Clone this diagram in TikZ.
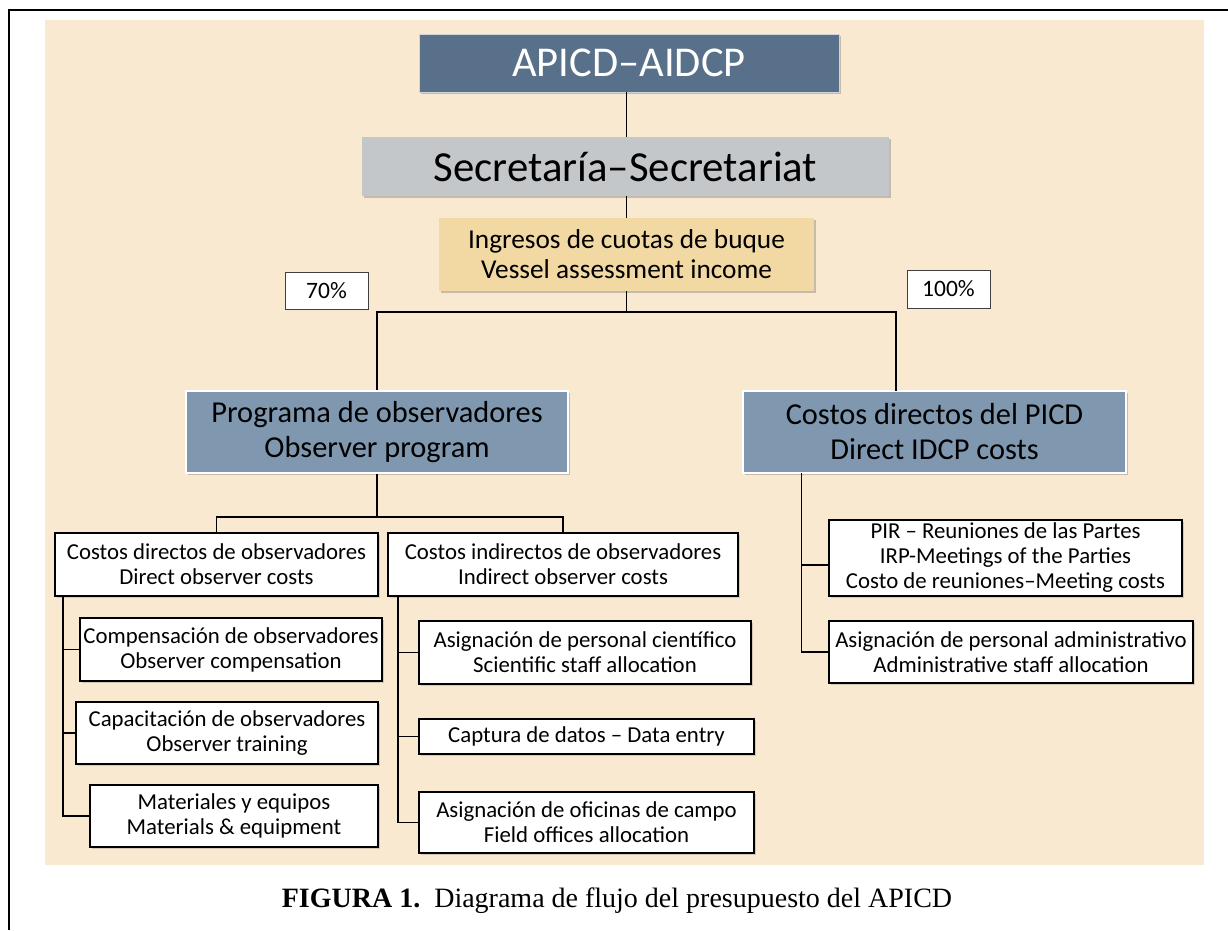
\documentclass[tikz,border=0pt]{standalone}
\usepackage{fontspec}
\setmainfont{Carlito}
\newfontfamily\capfont{Liberation Serif}
\usetikzlibrary{shadows}
\definecolor{tanbg}{RGB}{248,233,208}
\definecolor{slate}{RGB}{88,112,137}
\definecolor{greyb}{RGB}{196,199,202}
\definecolor{goldb}{RGB}{242,216,163}
\definecolor{blueb}{RGB}{127,152,175}
\begin{document}
\begin{tikzpicture}[x=1pt,y=-1pt,
  shad/.style={drop shadow={shadow xshift=2pt,shadow yshift=-2pt,opacity=0.35,fill=black!60}},
  basebox/.style={inner sep=0pt, align=center},
  topbox/.style={basebox, fill=slate, draw=white!70!slate, line width=0.8pt, text=white, shad, font=\fontsize{42.5}{46}\selectfont},
  secbox/.style={basebox, fill=greyb, shad, font=\fontsize{42.8}{46}\selectfont},
  incbox/.style={basebox, fill=goldb, shad, font=\fontsize{27.3}{30}\selectfont},
  pctbox/.style={basebox, fill=white, draw=black!75, line width=0.9pt, font=\fontsize{23.5}{26}\selectfont},
  midbox/.style={basebox, fill=blueb, draw=white, line width=2pt, shad, font=\fontsize{30.4}{35}\selectfont},
  leafbox/.style={basebox, fill=white, draw=black, line width=1.4pt, drop shadow={shadow xshift=1.5pt,shadow yshift=-1.5pt,opacity=0.25,fill=black!60}, font=\fontsize{22.8}{25}\selectfont},
  link/.style={draw=black, line width=1.1pt}
]
\useasboundingbox (0,0) rectangle (1228,930);
\fill[white] (0,0) rectangle (1228,930);
\fill[tanbg] (45,20) rectangle (1204,865);
\draw[line width=2pt] (9,930) -- (9,10) -- (1228,10);

% top chain
\node[topbox, minimum width=420pt, minimum height=58pt] (apicd) at (629,63) {APICD–AIDCP};
\node[secbox, minimum width=527pt, minimum height=59pt] (secr) at (625.5,166.5) {Secretaría–Secretariat};
\node[incbox, minimum width=375pt, minimum height=73pt] (ingr) at (626.5,254.5) {Ingresos de cuotas de buque\\Vessel assessment income};
\node[pctbox, minimum width=83pt, minimum height=37pt] (p70) at (326.5,290.5) {70\%};
\node[pctbox, minimum width=83pt, minimum height=38pt] (p100) at (948.5,289) {100\%};

% middle level
\node[midbox, minimum width=382pt, minimum height=82pt] (prog) at (377,432) {Programa de observadores\\Observer program};
\node[midbox, minimum width=383pt, minimum height=82pt] (picd) at (934.5,432) {Costos directos del PICD\\Direct IDCP costs};

% observer program children
\node[leafbox, minimum width=323pt, minimum height=63pt] (cdo) at (216.5,564.5) {Costos directos de observadores\\Direct observer costs};
\node[leafbox, minimum width=350pt, minimum height=63pt] (cio) at (563,564.5) {Costos indirectos de observadores\\Indirect observer costs};

\node[leafbox, minimum width=302pt, minimum height=63pt] (comp) at (231,649.5) {Compensación de observadores\\Observer compensation};
\node[leafbox, minimum width=302pt, minimum height=62pt] (capa) at (227,733) {Capacitación de observadores\\Observer training};
\node[leafbox, minimum width=288pt, minimum height=62pt] (mat) at (234,816) {Materiales y equipos\\Materials \& equipment};

\node[leafbox, minimum width=332pt, minimum height=63pt] (cien) at (585,652.5) {Asignación de personal científico\\Scientific staff allocation};
\node[leafbox, minimum width=335pt, minimum height=35pt] (capt) at (586.5,736.5) {Captura de datos – Data entry};
\node[leafbox, minimum width=335pt, minimum height=61pt] (ofic) at (586.5,822.5) {Asignación de oficinas de campo\\Field offices allocation};

% IDCP children
\node[leafbox, minimum width=353pt, minimum height=76pt] (pir) at (1005.5,558) {PIR – Reuniones de las Partes\\IRP-Meetings of the Parties\\Costo de reuniones–Meeting costs};
\node[leafbox, minimum width=364pt, minimum height=62pt] (adm) at (1011,652) {Asignación de personal administrativo\\Administrative staff allocation};

% junction coordinates
\coordinate (j1) at (626.5,312);
\coordinate (pt) at (896,391);
\coordinate (j2) at (377,517);
\coordinate (l0) at (63,596);
\coordinate (m0) at (398,596);
\coordinate (r0) at (801.5,473);

% connectors
\draw[link] (apicd.south -| ingr.north) -- (secr.north -| ingr.north);
\draw[link] (secr.south -| ingr.north) -- (ingr.north);
\draw[link] (ingr.south) -- (j1);
\draw[link] (prog.north) |- (j1) -| (pt);
\draw[link] (prog.south) -- (j2);
\draw[link] (cdo.north) |- (j2) -| (cio.north);
\draw[link] (l0) |- (comp.west);
\draw[link] (l0) |- (capa.west);
\draw[link] (l0) |- (mat.west);
\draw[link] (m0) |- (cien.west);
\draw[link] (m0) |- (capt.west);
\draw[link] (m0) |- (ofic.west);
\draw[link] (r0) |- ([yshift=-7pt]pir.west);
\draw[link] (r0) |- (adm.west);

% caption
\node[font=\capfont\fontsize{28}{32}\selectfont, inner sep=0pt, anchor=base] (cap) at (617,907) {\textbf{FIGURA 1.}\hspace{0.5em}Diagrama de flujo del presupuesto del APICD};
\end{tikzpicture}
\end{document}
